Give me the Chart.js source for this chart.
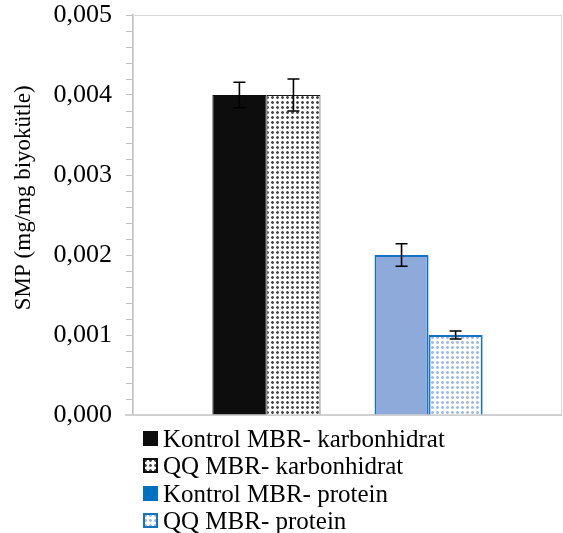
<!DOCTYPE html>
<html><head><meta charset="utf-8">
<script src="https://cdn.jsdelivr.net/npm/chart.js@4.4.1/dist/chart.umd.min.js"></script>
<style>
html,body{margin:0;padding:0;background:#fff;}
#wrap{position:relative;width:563px;height:533px;}
#legend{position:absolute;left:143px;top:425px;font-family:"Liberation Serif","Times New Roman",serif;font-size:25px;color:#000;}
.row{height:27.3px;line-height:27.3px;display:flex;align-items:center;white-space:nowrap;}
.row canvas{width:15px;height:15px;margin-right:5px;display:block;flex:none;}
</style></head><body>
<div id="wrap"><canvas id="c" width="563" height="533"></canvas><div id="legend"></div></div>
<script>
// ---- data ----
const categories = [''];
const seriesNames = ['Kontrol MBR- karbonhidrat', 'QQ MBR- karbonhidrat', '', 'Kontrol MBR- protein', 'QQ MBR- protein'];
const kontrolKarbonhidrat = [0.004];
const qqKarbonhidrat = [0.004];
const spacerSeries = [null];
const kontrolProtein = [0.002];
const qqProtein = [0.001];
const errKontrolKarbonhidrat = [0.00016];
const errQqKarbonhidrat = [0.0002];
const errKontrolProtein = [0.00014];
const errQqProtein = [0.00005];
const yAxisTitle = 'SMP (mg/mg biyokütle)';
const yMin = 0, yMax = 0.005, yMajorStep = 0.001, yMinorStep = 0.0002;

// ---- patterns ----
function makePattern(draw, size) {
  const c = document.createElement('canvas');
  c.width = size; c.height = size;
  const g = c.getContext('2d');
  draw(g);
  return g.createPattern(c, 'repeat');
}
const grayDots = makePattern(g => {
  g.fillStyle = '#fff'; g.fillRect(0, 0, 5, 5);
  g.fillStyle = '#b8b8b8'; g.fillRect(1, 1, 3, 3);
  g.fillStyle = '#4a4a4a'; g.fillRect(2, 1, 1, 3); g.fillRect(1, 2, 3, 1);
}, 5);
const blueDots = makePattern(g => {
  g.fillStyle = '#fff'; g.fillRect(0, 0, 5, 5);
  g.fillStyle = '#d2def3'; g.fillRect(1, 1, 3, 3);
  g.fillStyle = '#a3bae4'; g.fillRect(2, 1, 1, 3); g.fillRect(1, 2, 3, 1);
}, 5);

const styles = [
  {bg: '#0d0d0d', border: '#0d0d0d', bw: 1},
  {bg: grayDots, border: '#1a1a1a', bw: 1},
  {bg: 'rgba(0,0,0,0)', border: 'rgba(0,0,0,0)', bw: 0},
  {bg: '#8eaadb', border: '#1872c4', bw: 2},
  {bg: blueDots, border: '#1872c4', bw: 2}
];
const seriesValues = [kontrolKarbonhidrat, qqKarbonhidrat, spacerSeries, kontrolProtein, qqProtein];
const seriesErrors = [errKontrolKarbonhidrat, errQqKarbonhidrat, null, errKontrolProtein, errQqProtein];

const datasets = seriesValues.map((vals, i) => ({
  label: seriesNames[i],
  data: vals,
  errors: seriesErrors[i],
  backgroundColor: styles[i].bg,
  borderColor: styles[i].border,
  borderWidth: styles[i].bw,
  categoryPercentage: 0.63,
  barPercentage: 1.0
}));

const errorBarPlugin = {
  id: 'errbars',
  afterDatasetsDraw(chart) {
    const ctx = chart.ctx, y = chart.scales.y;
    chart.data.datasets.forEach((ds, i) => {
      if (!ds.errors) return;
      const meta = chart.getDatasetMeta(i);
      meta.data.forEach((el, j) => {
        const v = ds.data[j], e = ds.errors[j];
        if (v == null || e == null) return;
        const x = el.x, yt = y.getPixelForValue(v + e), yb = y.getPixelForValue(v - e);
        ctx.save();
        ctx.strokeStyle = '#000'; ctx.lineWidth = 1.6;
        ctx.beginPath();
        ctx.moveTo(x, yt); ctx.lineTo(x, yb);
        ctx.moveTo(x - 6, yt); ctx.lineTo(x + 6, yt);
        ctx.moveTo(x - 6, yb); ctx.lineTo(x + 6, yb);
        ctx.stroke();
        ctx.restore();
      });
    });
  }
};
const framePlugin = {
  id: 'frame',
  beforeDatasetsDraw(chart) {
    const {ctx, chartArea: a} = chart;
    ctx.save();
    ctx.strokeStyle = '#d9d9d9'; ctx.lineWidth = 1;
    ctx.strokeRect(a.left + 0.5, a.top + 0.5, a.right - a.left - 1, a.bottom - a.top);
    ctx.strokeStyle = '#d0d0d0'; ctx.lineWidth = 2;
    ctx.beginPath(); ctx.moveTo(a.left - 8, a.bottom); ctx.lineTo(a.right, a.bottom); ctx.stroke();
    ctx.restore();
  }
};

const serif = 'Liberation Serif';
new Chart(document.getElementById('c'), {
  type: 'bar',
  data: {labels: categories, datasets},
  options: {
    responsive: false, animation: false, devicePixelRatio: 1,
    layout: {padding: {left: 0, top: 15, right: 1, bottom: 118}},
    plugins: {legend: {display: false}, tooltip: {enabled: false}},
    scales: {
      x: {display: false},
      y: {
        min: yMin, max: yMax,
        ticks: {
          stepSize: yMinorStep, autoSkip: false, padding: 14, color: '#000',
          font: {family: serif, size: 26},
          callback: (v) => {
            const k = Math.round(v / yMajorStep);
            return Math.abs(k * yMajorStep - v) < 1e-9 ? (k * yMajorStep).toFixed(3).replace('.', ',') : '';
          }
        },
        grid: {drawOnChartArea: false, tickLength: 7, color: '#bfbfbf'},
        border: {color: '#bfbfbf', width: 1.5},
        title: {display: true, text: '      ' + yAxisTitle, color: '#000', font: {family: serif, size: 23}, padding: {top: 10, bottom: 0}},
        afterFit(s) { s.width = 133; s.paddingTop = 0; s.paddingBottom = 0; }
      }
    }
  },
  plugins: [framePlugin, errorBarPlugin]
});

// ---- HTML legend ----
const legend = document.getElementById('legend');
[0, 1, 3, 4].forEach(i => {
  const row = document.createElement('div'); row.className = 'row';
  const sw = document.createElement('canvas'); sw.width = 15; sw.height = 15;
  const g = sw.getContext('2d');
  if (i === 3) { g.fillStyle = '#0070c0'; g.fillRect(0, 0, 15, 15); }
  else {
    g.fillStyle = styles[i].bg; g.fillRect(0, 0, 15, 15);
    g.strokeStyle = i === 4 ? '#1872c4' : '#0d0d0d'; g.lineWidth = 2; g.strokeRect(1, 1, 13, 13);
  }
  const t = document.createElement('span'); t.textContent = seriesNames[i];
  row.appendChild(sw); row.appendChild(t); legend.appendChild(row);
});
</script>
</body></html>
